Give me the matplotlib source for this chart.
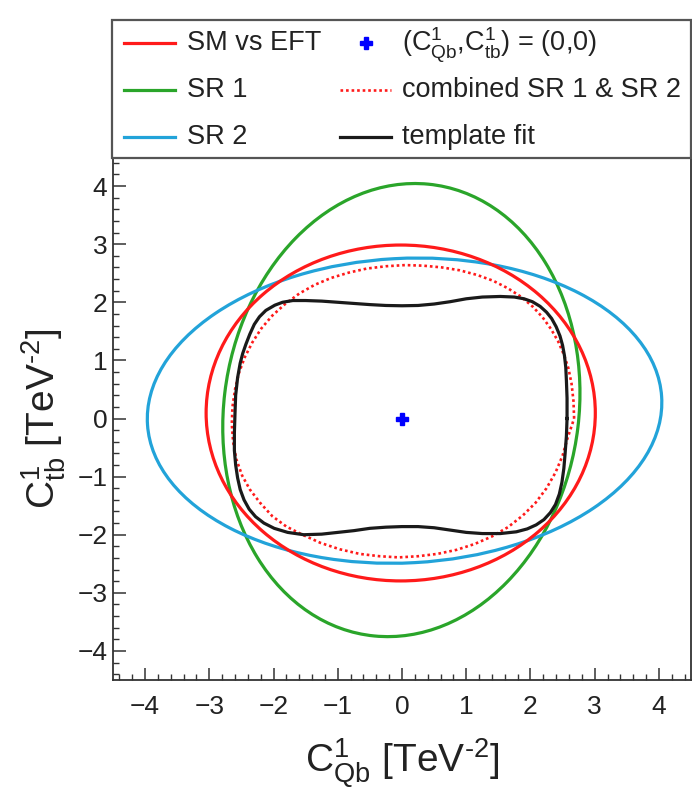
import numpy as np
import matplotlib
matplotlib.use("Agg")
import matplotlib.pyplot as plt
from matplotlib.patches import Ellipse, Rectangle
from matplotlib.lines import Line2D
from matplotlib.ticker import MultipleLocator

plt.rcParams['font.family'] = ['Liberation Sans', 'DejaVu Sans']
plt.rcParams['mathtext.fontset'] = 'custom'
plt.rcParams['mathtext.rm'] = 'Liberation Sans'
plt.rcParams['mathtext.it'] = 'Liberation Sans:italic'
plt.rcParams['mathtext.bf'] = 'Liberation Sans:bold'

# ---- contour data in the (C_Qb^1, C_tb^1) plane [TeV^-2] ----
# elliptical contours: centre, full width, full height, tilt in degrees
sm_vs_eft = dict(cx=-0.02, cy=0.095, w=6.06, h=5.78, tilt=0.0)
sr1 = dict(cx=-0.01, cy=0.145, w=5.53, h=7.82, tilt=-6.2)
sr2 = dict(cx=0.04, cy=0.135, w=8.02, h=5.24, tilt=3.5)

# combined SR 1 & SR 2 contour
combined_x = [2.68, 2.67, 2.64, 2.59, 2.52, 2.43, 2.32, 2.19, 2.04, 1.86,
              1.65, 1.42, 1.17, 0.90, 0.62, 0.33, 0.05, -0.25, -0.55, -0.83,
              -1.10, -1.36, -1.60, -1.82, -2.02, -2.19, -2.33, -2.45, -2.54, -2.60,
              -2.64, -2.65, -2.63, -2.58, -2.49, -2.37, -2.21, -2.02, -1.80, -1.55,
              -1.27, -0.97, -0.66, -0.35, -0.05, 0.25, 0.55, 0.85, 1.13, 1.40,
              1.65, 1.88, 2.08, 2.25, 2.39, 2.50, 2.58]
combined_y = [0.00, 0.30, 0.60, 0.87, 1.10, 1.33, 1.54, 1.74, 1.92, 2.09,
              2.24, 2.37, 2.47, 2.55, 2.60, 2.63, 2.64, 2.62, 2.58, 2.51,
              2.42, 2.30, 2.15, 1.97, 1.77, 1.55, 1.31, 1.05, 0.78, 0.50,
              0.20, -0.10, -0.40, -0.70, -0.98, -1.22, -1.45, -1.68, -1.86, -2.00,
              -2.14, -2.25, -2.33, -2.37, -2.39, -2.37, -2.33, -2.26, -2.16, -2.03,
              -1.87, -1.67, -1.45, -1.20, -0.93, -0.64, -0.33]

# template fit contour
template_x = [2.57, 2.57, 2.56, 2.55, 2.53, 2.50, 2.46, 2.40, 2.33, 2.25,
              2.15, 2.03, 1.90, 1.75, 1.53, 1.25, 1.00, 0.75, 0.50, 0.25,
              0.00, -0.25, -0.50, -0.75, -1.00, -1.25, -1.50, -1.70, -1.86, -1.98,
              -2.12, -2.22, -2.30, -2.37, -2.43, -2.48, -2.52, -2.56, -2.59, -2.60,
              -2.61, -2.61, -2.59, -2.56, -2.52, -2.46, -2.38, -2.28, -2.15, -1.99,
              -1.78, -1.53, -1.25, -1.00, -0.75, -0.50, -0.25, 0.00, 0.25, 0.50,
              0.75, 1.00, 1.25, 1.53, 1.78, 1.95, 2.09, 2.21, 2.31, 2.39,
              2.45, 2.49, 2.52, 2.54, 2.56]
template_y = [0.00, 0.35, 0.65, 0.88, 1.08, 1.26, 1.42, 1.58, 1.72, 1.83,
              1.93, 2.01, 2.06, 2.09, 2.10, 2.09, 2.06, 2.01, 1.97, 1.945,
              1.94, 1.945, 1.96, 1.98, 2.00, 2.02, 2.03, 2.03, 2.00, 1.95,
              1.86, 1.75, 1.62, 1.45, 1.28, 1.12, 0.95, 0.70, 0.40, 0.10,
              -0.25, -0.55, -0.80, -1.02, -1.22, -1.40, -1.56, -1.69, -1.80, -1.89,
              -1.96, -2.00, -1.99, -1.96, -1.93, -1.89, -1.87, -1.86, -1.86, -1.88,
              -1.92, -1.96, -1.98, -1.98, -1.95, -1.90, -1.83, -1.74, -1.62, -1.48,
              -1.30, -1.10, -0.86, -0.60, -0.30]

sm_point_x = [0.0]
sm_point_y = [0.0]

xlim = (-4.5, 4.5)
ylim = (-4.5, 4.5)
xticks = [-4, -3, -2, -1, 0, 1, 2, 3, 4]
yticks = [-4, -3, -2, -1, 0, 1, 2, 3, 4]

# ---- styles ----
RED = '#ff1a1a'
GREEN = '#2aa52a'
BLUE = '#22a3d9'
BLACK = '#1a1a1a'
LW = 2.3
style_sm = dict(color=RED, lw=LW)
style_sr1 = dict(color=GREEN, lw=LW)
style_sr2 = dict(color=BLUE, lw=LW)
style_comb = dict(color=RED, lw=1.9, linestyle=(0, (1, 1.1)))
style_tmpl = dict(color=BLACK, lw=LW)
style_point = dict(color='#0000ff', marker='P', markersize=8, linestyle='none')

W, H = 692, 787
fig = plt.figure(figsize=(W / 100, H / 100), dpi=100)


def fx(px):
    return px / W


def fy(py):
    return 1 - py / H


ax = fig.add_axes([fx(113), fy(680), (691 - 113) / W, (680 - 157) / H])
ax.set_xlim(*xlim)
ax.set_ylim(*ylim)

for e, st in ((sr1, style_sr1), (sr2, style_sr2), (sm_vs_eft, style_sm)):
    ax.add_patch(Ellipse((e['cx'], e['cy']), e['w'], e['h'], angle=e['tilt'],
                         fill=False, ec=st['color'], lw=st['lw']))

ax.plot(combined_x + combined_x[:1], combined_y + combined_y[:1], **style_comb)
ax.plot(template_x + template_x[:1], template_y + template_y[:1],
        solid_joinstyle='round', **style_tmpl)
ax.plot(sm_point_x, sm_point_y, **style_point)

# axes frame and ticks
for s in ax.spines.values():
    s.set_color('#333333')
    s.set_linewidth(1.3)
ax.xaxis.set_minor_locator(MultipleLocator(0.2))
ax.yaxis.set_minor_locator(MultipleLocator(0.2))
ax.set_xticks(xticks)
ax.set_yticks(yticks)
ax.set_xticklabels([str(t).replace('-', '\u2212') for t in xticks])
ax.set_yticklabels([str(t).replace('-', '\u2212') for t in yticks])
ax.tick_params(which='major', direction='in', length=9, width=1.1, color='#333333',
               labelsize=19, labelcolor='#222222')
ax.tick_params(which='minor', direction='in', length=4.5, width=1.0, color='#333333')
ax.tick_params(axis='x', which='major', pad=11)
ax.tick_params(axis='y', which='major', pad=4)
ax.tick_params(top=False, right=False, which='both')

ax.set_xlabel(r'$\mathregular{C^{1}_{Qb}}$ [TeV$^{\text{-}\mathregular{2}}$]', fontsize=28,
              color='#222222')
ax.set_ylabel(r'$\mathregular{C^{1}_{tb}}$ [TeV$^{\text{-}\mathregular{2}}$]', fontsize=28,
              color='#222222')
ax.xaxis.set_label_coords(0.5, -0.108)
ax.yaxis.set_label_coords(-0.077, 0.5)

# ---- legend box ----
fig.patches.append(Rectangle((fx(112), fy(158)), (691 - 112) / W, (158 - 20) / H,
                             transform=fig.transFigure, facecolor='white',
                             edgecolor='#555555', lw=1.6, zorder=5))
LEG_FS = 19.5
rows = [43, 90, 137]


def leg_line(x0, x1, yy, **st):
    fig.lines.append(Line2D([fx(x0), fx(x1)], [fy(yy), fy(yy)], transform=fig.transFigure,
                            zorder=6, **st))


def leg_text(x, yy, s):
    fig.text(fx(x), fy(yy), s, fontsize=LEG_FS, va='center', ha='left',
             color='#222222', zorder=7)


leg_line(124, 175, rows[0], **style_sm)
leg_text(187, rows[0], 'SM vs EFT')
leg_line(124, 175, rows[1], **style_sr1)
leg_text(187, rows[1], 'SR 1')
leg_line(124, 175, rows[2], **style_sr2)
leg_text(187, rows[2], 'SR 2')

fig.lines.append(Line2D([fx(366)], [fy(rows[0])], transform=fig.transFigure, zorder=6,
                        **style_point))
leg_text(402, rows[0] + 2, r'$\mathregular{(C^{1}_{Qb}{,}C^{1}_{tb})}$ = (0,0)')
leg_line(340, 391, rows[1], **style_comb)
leg_text(402, rows[1], 'combined SR 1 & SR 2')
leg_line(340, 391, rows[2], **style_tmpl)
leg_text(402, rows[2], 'template fit')

fig.savefig('out.png', dpi=100)
